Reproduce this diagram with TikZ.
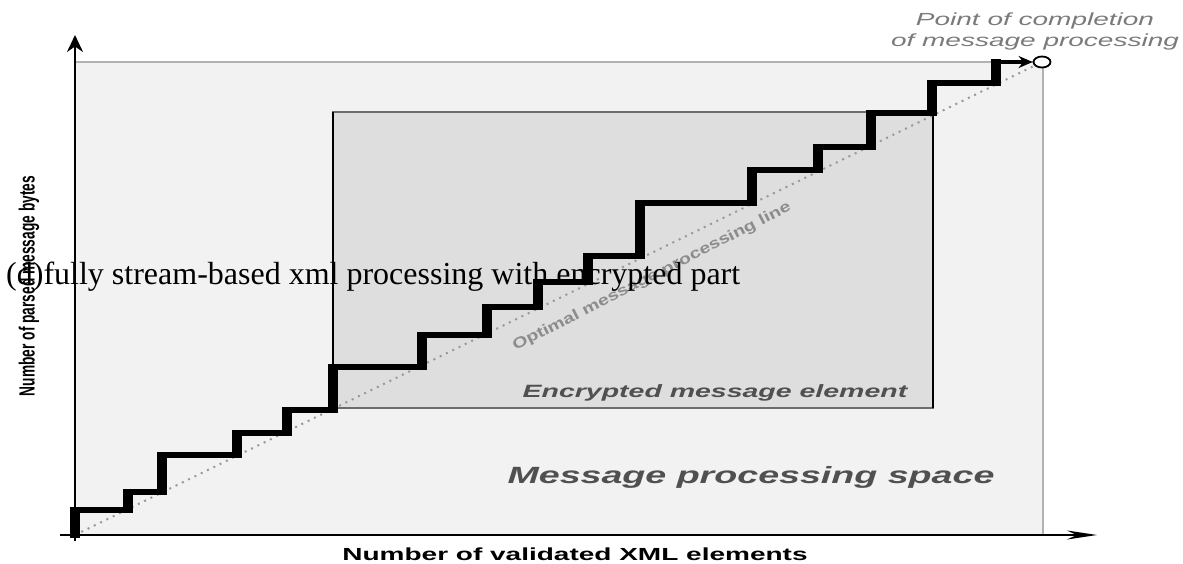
\documentclass[tikz,border=0pt]{standalone}
\usepackage{fontspec}
\setmainfont{Liberation Serif}
\setsansfont{Liberation Sans}
\usetikzlibrary{arrows.meta, shapes.geometric}

\definecolor{spacegray}{HTML}{F2F2F2}
\definecolor{encgray}{HTML}{DEDEDE}
\definecolor{labelgray}{HTML}{505050}
\definecolor{notegray}{HTML}{7A7A7A}

% horizontal stretch of the sans labels
\newcommand{\wide}[1]{\scalebox{1.6}[1]{#1}}

\begin{document}
\begin{tikzpicture}[x=1pt, y=-1pt,
    axis/.style={draw=black, line width=1.6pt},
    space/.style={fill=spacegray, draw=gray!60, line width=1.5pt},
    encbox/.style={fill=encgray, draw=gray!85!black, line width=1.5pt},
    optimal/.style={draw=gray!80, line width=2pt, dash pattern=on 2pt off 5pt},
    tread/.style={line width=6pt},
    label/.style={font=\sffamily\bfseries\itshape, text=labelgray, inner sep=0pt},
    >=Stealth
  ]
  \useasboundingbox (0,0) rectangle (1183,564);

  % Message processing space
  \draw[space] (75,62) rectangle (1043,535);
  % Encrypted element
  \draw[encbox] (333,112) rectangle (933,408);
  \draw[line width=1.8pt] (333,112) -- (333,408);
  \draw[line width=1.8pt] (933,112) -- (933,408);

  \coordinate (O) at (75,535);
  \node[ellipse, draw, fill=white, line width=1.8pt, inner sep=0pt,
        minimum width=17pt, minimum height=11pt] (done) at (1042,62) {};

  % Optimal line
  \draw[optimal] (O) -- (done);
  \node[font=\fontsize{15}{15}\selectfont\sffamily\bfseries, text=gray!90,
        rotate=27, inner sep=0pt] (optlabel) at (652,277)
    {\scalebox{1.3}[1]{Optimal message processing line}};

  % Staircase
  \foreach \x/\y [remember=\x as \xp (initially 75),
                  remember=\y as \yp (initially 535)] in
      {75/510, 128/492, 162/455, 237/433, 287/410, 333/367, 422/335,
       487/307, 538/282, 588/256, 640/203, 752/170, 818/147, 871/113,
       932/83, 996/62} {
    \draw[tread] (\xp,\yp) -- (\x,\yp);
    \fill (\x-5,\y-3) rectangle (\x+5,\yp+3);
  }
  \coordinate (top) at (996,62);
  \draw[line width=4pt, -{Stealth[length=14pt,width=12pt]}] (top) -- (done.west);

  % Axes
  \draw[axis, -{Stealth[length=30pt,width=9pt]}] (60,535) -- (1097,535);
  \draw[axis, line width=2.2pt, -{Stealth[length=17pt,width=16pt]}] (75,541) -- (75,35);

  % Labels
  \node[label, font=\fontsize{17.5}{21}\selectfont\sffamily\itshape, text=notegray,
        align=center] (pointlabel) at (1035,31)
    {\wide{Point of completion}\\\wide{of message processing}};
  \node[label, font=\fontsize{17.8}{18}\selectfont\sffamily\bfseries\itshape,
        anchor=base] (enclabel) at (715,397) {\wide{Encrypted message element}};
  \node[label, font=\fontsize{23.5}{24}\selectfont\sffamily\bfseries\itshape,
        anchor=base] (spacelabel) at (751,483) {\wide{Message processing space}};
  \node[font=\fontsize{17.5}{18}\selectfont\sffamily\bfseries, inner sep=0pt,
        anchor=base] (xlabel) at (575,560) {\wide{Number of validated XML elements}};
  \node[font=\fontsize{13.75}{14}\selectfont\sffamily\bfseries, inner sep=0pt,
        rotate=90] (ylabel) at (29,286)
    {\scalebox{1}[1.6]{Number of parsed message bytes}};

  % Caption
  \node[font=\fontsize{32}{32}\selectfont, inner sep=0pt, anchor=base west]
    (caption) at (6,284) {(d)fully stream-based xml processing with encrypted part};
\end{tikzpicture}
\end{document}
